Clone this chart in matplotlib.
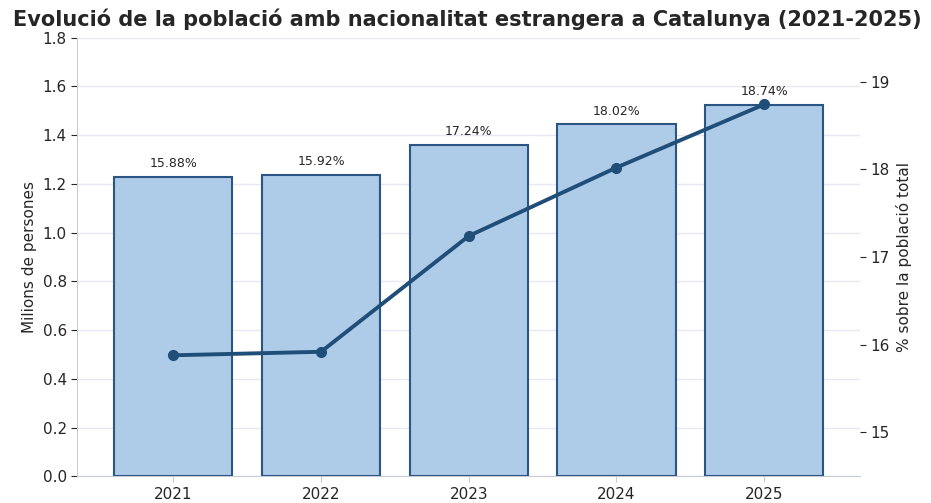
import matplotlib
matplotlib.use("Agg")
import matplotlib.pyplot as plt
import numpy as np

# Data
years = ["2021", "2022", "2023", "2024", "2025"]
population_millions = [1.229, 1.236, 1.361, 1.444, 1.523]
pct_total = [15.88, 15.92, 17.24, 18.02, 18.74]

BAR_COLOR = "#aecbe8"
EDGE_COLOR = "#2b5683"
LINE_COLOR = "#1f4e79"
TEXT_COLOR = "#262626"
SPINE_COLOR = "#c8cbd8"

fig, ax = plt.subplots(figsize=(9.31, 5.03), dpi=100)
fig.subplots_adjust(left=0.083, right=0.924, top=0.925, bottom=0.053)

x = np.arange(len(years))
bars = ax.bar(x, population_millions, width=0.8, color=BAR_COLOR,
              edgecolor=EDGE_COLOR, linewidth=1.5, zorder=3)
for bar, p in zip(bars, pct_total):
    ax.annotate(f"{p:.2f}%",
                xy=(bar.get_x() + bar.get_width() / 2, bar.get_height()),
                xytext=(0, 5), textcoords="offset points",
                ha="center", va="bottom", fontsize=9, color=TEXT_COLOR)

ax.set_ylim(0, 1.8)
ax.set_yticks(np.arange(0, 1.81, 0.2))
ax.set_xlim(-0.65, 4.65)
ax.set_xticks(x)
ax.set_xticklabels(years)
ax.set_ylabel("Milions de persones", fontsize=11, color=TEXT_COLOR)
ax.grid(True, axis="y", color="#e6e9f2", linewidth=1, zorder=0)
ax.set_axisbelow(True)
for side in ("top", "right"):
    ax.spines[side].set_visible(False)
for side in ("left", "bottom"):
    ax.spines[side].set_color(SPINE_COLOR)
ax.tick_params(axis="both", labelsize=11, colors=TEXT_COLOR, length=4)
ax.tick_params(axis="x", color=SPINE_COLOR)

ax2 = ax.twinx()
ax2.plot(x, pct_total, color=LINE_COLOR, linewidth=2.8, marker="o",
         markersize=7, zorder=4)
ax2.set_ylim(14.5, 19.5)
ax2.set_yticks([15, 16, 17, 18, 19])
ax2.set_ylabel("% sobre la població total", fontsize=11, color=TEXT_COLOR)
for side in ("top", "right", "left", "bottom"):
    ax2.spines[side].set_visible(False)
ax2.tick_params(axis="y", labelsize=11, colors=TEXT_COLOR, length=4)

fig.suptitle("Evolució de la població amb nacionalitat estrangera a Catalunya (2021-2025)",
             fontsize=15, fontweight="bold", color=TEXT_COLOR, x=0.502, y=0.984)

fig.savefig("out.png", dpi=100)
